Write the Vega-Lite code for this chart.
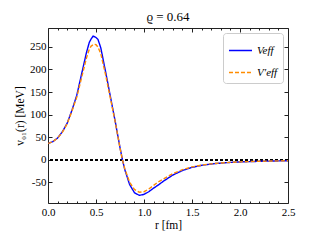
{
  "$schema": "https://vega.github.io/schema/vega-lite/v6.json",
  "width": 240,
  "height": 175,
  "autosize": "none",
  "padding": {"left": 48, "top": 28, "right": 32, "bottom": 37},
  "config": {
    "font": "Liberation Serif",
    "view": {"stroke": "#222", "strokeWidth": 1},
    "axis": {"grid": false, "domain": false, "labelFlush": false, "tickColor": "#222", "labelColor": "#000", "titleColor": "#000", "labelFontSize": 11, "titleFontSize": 11.5, "titleFontWeight": "normal", "labelFont": "Liberation Serif", "titleFont": "Liberation Serif"},
    "title": {"font": "Liberation Serif", "fontSize": 13, "fontWeight": "normal"}
  },
  "title": {"text": "ϱ = 0.64", "offset": 4},
  "datasets": {
    "curves": [
      {"r": 0.00, "v": 36, "s": "Veff"}, {"r": 0.05, "v": 40, "s": "Veff"}, {"r": 0.10, "v": 48, "s": "Veff"}, {"r": 0.15, "v": 62, "s": "Veff"}, {"r": 0.20, "v": 81, "s": "Veff"}, {"r": 0.25, "v": 110, "s": "Veff"}, {"r": 0.30, "v": 143, "s": "Veff"}, {"r": 0.35, "v": 190, "s": "Veff"}, {"r": 0.40, "v": 237, "s": "Veff"}, {"r": 0.43, "v": 260, "s": "Veff"}, {"r": 0.45, "v": 268, "s": "Veff"}, {"r": 0.47, "v": 274, "s": "Veff"}, {"r": 0.50, "v": 271, "s": "Veff"}, {"r": 0.52, "v": 267, "s": "Veff"}, {"r": 0.55, "v": 248, "s": "Veff"}, {"r": 0.60, "v": 195, "s": "Veff"}, {"r": 0.65, "v": 140, "s": "Veff"}, {"r": 0.70, "v": 85, "s": "Veff"}, {"r": 0.75, "v": 27, "s": "Veff"}, {"r": 0.775, "v": 0, "s": "Veff"}, {"r": 0.80, "v": -22, "s": "Veff"}, {"r": 0.85, "v": -55, "s": "Veff"}, {"r": 0.90, "v": -73, "s": "Veff"}, {"r": 0.95, "v": -79, "s": "Veff"}, {"r": 1.00, "v": -77, "s": "Veff"}, {"r": 1.05, "v": -71, "s": "Veff"}, {"r": 1.10, "v": -63, "s": "Veff"}, {"r": 1.15, "v": -56, "s": "Veff"}, {"r": 1.20, "v": -48, "s": "Veff"}, {"r": 1.30, "v": -34, "s": "Veff"}, {"r": 1.40, "v": -24, "s": "Veff"}, {"r": 1.50, "v": -17, "s": "Veff"}, {"r": 1.60, "v": -12.5, "s": "Veff"}, {"r": 1.70, "v": -9.5, "s": "Veff"}, {"r": 1.80, "v": -7.5, "s": "Veff"}, {"r": 1.90, "v": -6, "s": "Veff"}, {"r": 2.00, "v": -5, "s": "Veff"}, {"r": 2.10, "v": -4.2, "s": "Veff"}, {"r": 2.20, "v": -3.6, "s": "Veff"}, {"r": 2.30, "v": -3.1, "s": "Veff"}, {"r": 2.40, "v": -2.7, "s": "Veff"}, {"r": 2.50, "v": -2.3, "s": "Veff"},
      {"r": 0.00, "v": 36, "s": "V′eff"}, {"r": 0.05, "v": 40, "s": "V′eff"}, {"r": 0.10, "v": 48, "s": "V′eff"}, {"r": 0.15, "v": 61, "s": "V′eff"}, {"r": 0.20, "v": 80, "s": "V′eff"}, {"r": 0.25, "v": 108, "s": "V′eff"}, {"r": 0.30, "v": 139, "s": "V′eff"}, {"r": 0.35, "v": 182, "s": "V′eff"}, {"r": 0.40, "v": 225, "s": "V′eff"}, {"r": 0.43, "v": 245, "s": "V′eff"}, {"r": 0.45, "v": 252, "s": "V′eff"}, {"r": 0.48, "v": 256, "s": "V′eff"}, {"r": 0.50, "v": 255, "s": "V′eff"}, {"r": 0.52, "v": 250, "s": "V′eff"}, {"r": 0.55, "v": 235, "s": "V′eff"}, {"r": 0.60, "v": 188, "s": "V′eff"}, {"r": 0.65, "v": 136, "s": "V′eff"}, {"r": 0.70, "v": 84, "s": "V′eff"}, {"r": 0.75, "v": 26, "s": "V′eff"}, {"r": 0.775, "v": 0, "s": "V′eff"}, {"r": 0.80, "v": -20, "s": "V′eff"}, {"r": 0.85, "v": -50, "s": "V′eff"}, {"r": 0.90, "v": -66, "s": "V′eff"}, {"r": 0.95, "v": -72, "s": "V′eff"}, {"r": 1.00, "v": -71, "s": "V′eff"}, {"r": 1.05, "v": -65, "s": "V′eff"}, {"r": 1.10, "v": -57, "s": "V′eff"}, {"r": 1.15, "v": -49, "s": "V′eff"}, {"r": 1.20, "v": -43, "s": "V′eff"}, {"r": 1.30, "v": -31, "s": "V′eff"}, {"r": 1.40, "v": -22, "s": "V′eff"}, {"r": 1.50, "v": -16, "s": "V′eff"}, {"r": 1.60, "v": -12, "s": "V′eff"}, {"r": 1.70, "v": -9.2, "s": "V′eff"}, {"r": 1.80, "v": -7.3, "s": "V′eff"}, {"r": 1.90, "v": -5.9, "s": "V′eff"}, {"r": 2.00, "v": -4.9, "s": "V′eff"}, {"r": 2.10, "v": -4.1, "s": "V′eff"}, {"r": 2.20, "v": -3.5, "s": "V′eff"}, {"r": 2.30, "v": -3.0, "s": "V′eff"}, {"r": 2.40, "v": -2.6, "s": "V′eff"}, {"r": 2.50, "v": -2.2, "s": "V′eff"}
    ]
  },
  "data": {"name": "curves"},
  "resolve": {"axis": {"x": "independent", "y": "independent"}},
  "layer": [
    {
      "mark": {"type": "rule", "strokeDash": [2.5, 2.5], "color": "black", "strokeWidth": 0.9},
      "encoding": {"y": {"datum": 0, "type": "quantitative", "scale": {"domain": [-96, 292]}, "axis": null}}
    },
    {
      "mark": {"type": "line", "strokeWidth": 1.4, "clip": true},
      "encoding": {
        "x": {"field": "r", "type": "quantitative", "scale": {"domain": [0, 2.5], "nice": false}, "title": "r [fm]",
              "axis": {"values": [0, 0.5, 1, 1.5, 2, 2.5], "format": ".1f", "tickSize": -4, "labelPadding": 7, "titlePadding": 2}},
        "y": {"field": "v", "type": "quantitative", "scale": {"domain": [-96, 292], "nice": false, "zero": false}, "title": "v₀₁(r) [MeV]",
              "axis": {"values": [-50, 0, 50, 100, 150, 200, 250], "labelExpr": "replace(datum.label, '−', '-')", "tickSize": -4, "labelPadding": 6, "titlePadding": 4}},
        "color": {"field": "s", "type": "nominal", "scale": {"domain": ["Veff", "V′eff"], "range": ["#0000ff", "#ff8c00"]},
                  "legend": {"title": null, "orient": "top-right", "offset": 5, "padding": 5, "strokeColor": "#cccccc", "fillColor": "white", "cornerRadius": 3,
                             "symbolType": "stroke", "symbolSize": 530, "symbolStrokeWidth": 1.4, "labelFontSize": 11, "labelFont": "Liberation Serif", "labelFontStyle": "italic", "rowPadding": 4}},
        "strokeDash": {"field": "s", "type": "nominal", "scale": {"domain": ["Veff", "V′eff"], "range": [[1, 0], [4, 2]]}, "legend": {"title": null}}
      }
    },
    {
      "mark": {"type": "line", "opacity": 0},
      "encoding": {
        "x": {"field": "r", "type": "quantitative", "axis": {"orient": "top", "values": [0, 0.5, 1, 1.5, 2, 2.5], "labels": false, "tickSize": -4, "title": null}},
        "y": {"field": "v", "type": "quantitative", "axis": {"orient": "right", "values": [-50, 0, 50, 100, 150, 200, 250], "labels": false, "tickSize": -4, "title": null}},
        "detail": {"field": "s"}
      }
    },
    {
      "mark": {"type": "line", "opacity": 0},
      "encoding": {
        "x": {"field": "r", "type": "quantitative", "axis": {"orient": "bottom", "values": [0.1, 0.2, 0.3, 0.4, 0.6, 0.7, 0.8, 0.9, 1.1, 1.2, 1.3, 1.4, 1.6, 1.7, 1.8, 1.9, 2.1, 2.2, 2.3, 2.4], "labels": false, "tickSize": -2, "title": null}},
        "y": {"field": "v", "type": "quantitative", "axis": null},
        "detail": {"field": "s"}
      }
    },
    {
      "mark": {"type": "line", "opacity": 0},
      "encoding": {
        "x": {"field": "r", "type": "quantitative", "axis": {"orient": "top", "values": [0.1, 0.2, 0.3, 0.4, 0.6, 0.7, 0.8, 0.9, 1.1, 1.2, 1.3, 1.4, 1.6, 1.7, 1.8, 1.9, 2.1, 2.2, 2.3, 2.4], "labels": false, "tickSize": -2, "title": null}},
        "y": {"field": "v", "type": "quantitative", "axis": null},
        "detail": {"field": "s"}
      }
    }
  ]
}
